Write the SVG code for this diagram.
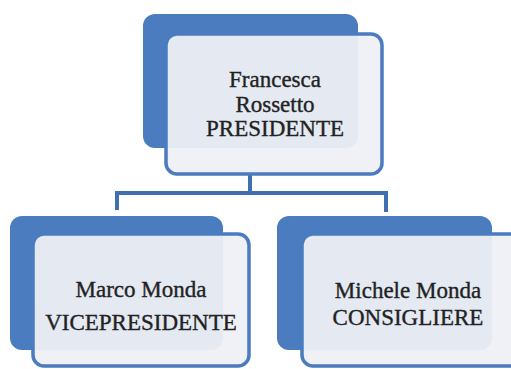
<svg xmlns="http://www.w3.org/2000/svg" width="511" height="369" viewBox="0 0 511 369">
<style>
.back{fill:#4a7cbf;}
.front{fill:#eef0f5;fill-opacity:0.94;stroke:#4a7cbf;stroke-width:3.5;}
.conn{fill:none;stroke:#3f70b0;stroke-width:4;}
.t{font-family:"Liberation Serif","DejaVu Serif",serif;font-size:23px;fill:#222;stroke:#222;stroke-width:0.35;text-anchor:middle;}
</style>
<rect width="511" height="369" fill="#fff"/>
<g id="connectors">
<path class="conn" d="M250 174 V193 M117 193 H386 M117 191 V210 M386 191 V212"/>
</g>
<g id="presidente">
<rect class="back" x="143" y="14" width="215" height="134" rx="12"/>
<rect class="front" x="166" y="34" width="216" height="140" rx="11"/>
<text class="t" x="275" y="87">Francesca</text>
<text class="t" x="275" y="112">Rossetto</text>
<text class="t" x="275" y="136">PRESIDENTE</text>
</g>
<g id="vicepresidente">
<rect class="back" x="10" y="216" width="213" height="134" rx="12"/>
<rect class="front" x="33" y="234" width="216" height="132" rx="11"/>
<text class="t" x="141" y="297">Marco Monda</text>
<text class="t" x="141" y="330">VICEPRESIDENTE</text>
</g>
<g id="consigliere">
<rect class="back" x="277" y="216" width="215" height="134" rx="12"/>
<rect class="front" x="302" y="234" width="230" height="132" rx="11"/>
<text class="t" x="408" y="298">Michele Monda</text>
<text class="t" x="408" y="325">CONSIGLIERE</text>
</g>
</svg>
